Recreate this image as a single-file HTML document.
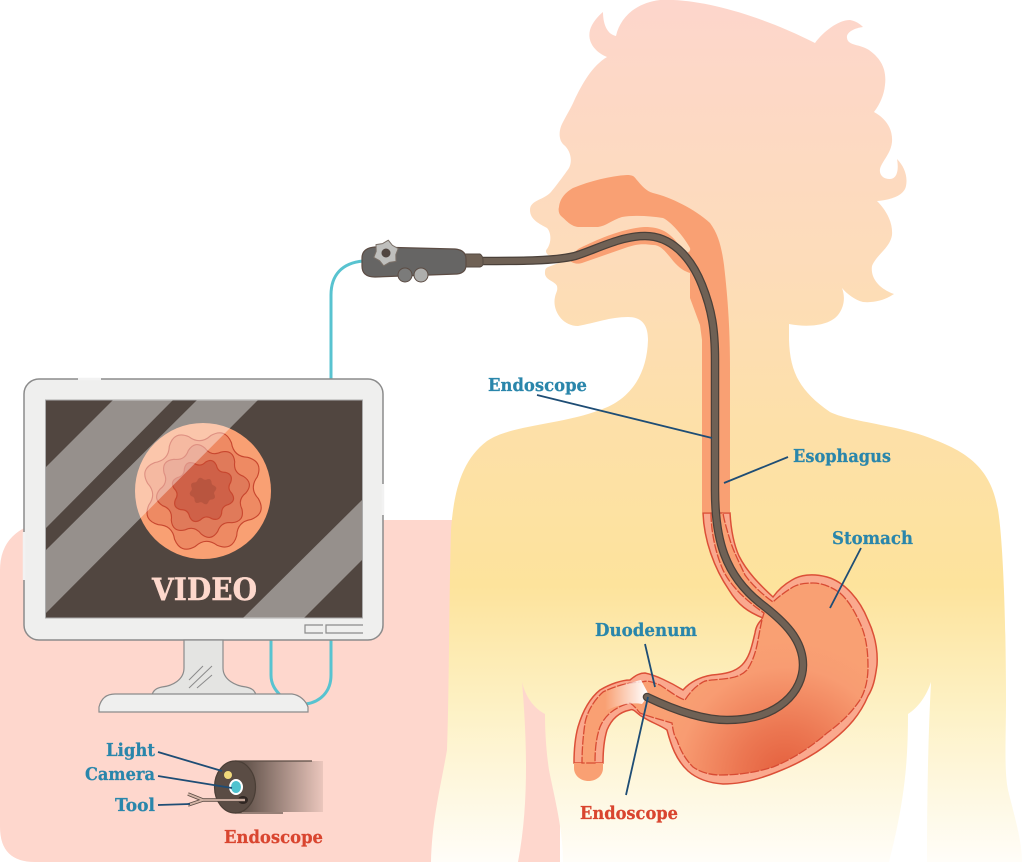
<!DOCTYPE html>
<html><head><meta charset="utf-8"><style>
html,body{margin:0;padding:0;background:#fff}
svg{display:block}
.l{font-family:"DejaVu Serif","Liberation Serif",serif;font-weight:700;font-size:18px;stroke-width:.25px}
.b{fill:#2a86ab;stroke:#2a86ab}.r{fill:#d9452f;stroke:#d9452f}
</style></head><body>
<svg width="1024" height="868" viewBox="0 0 1024 868" xmlns="http://www.w3.org/2000/svg">
<defs>
<linearGradient id="body" gradientUnits="userSpaceOnUse" x1="0" y1="0" x2="0" y2="862">
<stop offset="0" stop-color="#fdd6cc"/><stop offset=".3" stop-color="#fddcba"/><stop offset=".5" stop-color="#fde0a8"/><stop offset=".68" stop-color="#fde39c"/><stop offset=".82" stop-color="#fdf1c4"/><stop offset="1" stop-color="#fffdf8"/>
</linearGradient>
<radialGradient id="sto" gradientUnits="userSpaceOnUse" cx="785" cy="775" r="135">
<stop offset="0" stop-color="#e45f3d"/><stop offset=".35" stop-color="#ec7752"/><stop offset=".8" stop-color="#f89c72"/><stop offset="1" stop-color="#f9a073"/>
</radialGradient>
<linearGradient id="tip" gradientUnits="userSpaceOnUse" x1="240" y1="0" x2="323" y2="0">
<stop offset="0" stop-color="#5a4c44"/><stop offset="1" stop-color="#5a4c44" stop-opacity=".12"/>
</linearGradient>
<linearGradient id="wh" gradientUnits="userSpaceOnUse" x1="605" y1="0" x2="645" y2="0">
<stop offset="0" stop-color="#fff" stop-opacity="0"/><stop offset="1" stop-color="#fff" stop-opacity=".95"/>
</linearGradient>
<path id="w" d="M100 0Q117.700 23.400 92.400 38.300Q68.100 45.600 70.700 70.700Q66.700 99.700 38.300 92.400Q16 80.400 0 100Q-23.400 117.700 -38.300 92.400Q-45.600 68.100 -70.700 70.700Q-99.700 66.700 -92.400 38.300Q-80.400 16 -100 0Q-117.700 -23.400 -92.400 -38.300Q-68.100 -45.600 -70.700 -70.700Q-66.700 -99.700 -38.300 -92.400Q-16 -80.400 0 -100Q23.400 -117.700 38.300 -92.400Q45.600 -68.100 70.700 -70.700Q99.700 -66.700 92.400 -38.300Q80.400 -16 100 0Z"/>
</defs>
<rect width="1024" height="868" fill="#fff"/>
<path d="M50 520H560V862H35Q0 862 0 827V570Q0 528 50 520Z" fill="#fed7cd"/>

<path fill="url(#body)" d="M648 340C648 325 642 317 628 317C610 317 595 323 578 326C562 326 552 310 555 297C556 292 558 291 557 286C555 281 544 280 545 272C545 269 546 268 548 267L572 258L548 255C545 252 546 250 547 249C552 242 551 232 547 228C540 224 530 220 530 210C530 200 544 200 551 192C556 186 565 174 569 168C573 160 570 150 564 145C558 140 559 130 562 124C566 116 571 108 574 101C582 84 592 66 607 57C595 52 587 42 590 30C592 23 598 16 603 12C603 22 606 34 616 36C620 18 635 3 660 0C700 -2 760 15 815 43C823 32 838 20 850 20C856 21 860 24 863 27C855 28 846 32 847 38C848 46 860 44 869 50C880 58 887 68 885 85C884 95 880 104 874 112C885 118 893 128 892 142C891 152 885 158 881 166C878 172 881 179 890 179C897 179 899 170 897 159C904 166 908 176 906 186C904 196 890 200 877 201C886 210 893 222 892 235C890 248 877 254 872 266C870 280 882 290 894 294C885 300 875 303 863 302C855 300 847 294 842 288C845 296 845 306 838 315C830 325 810 328 789 324L789 340C790 370 798 390 830 412C850 422 900 425 935 440C975 455 992 475 998 510C1003 540 1006 620 1006 700C1006 740 1004 770 1008 790C1014 815 1022 840 1022 862L927 862C927 800 928 740 931 682C927 695 918 708 908 714C908 760 905 800 889 862L563 862C563 830 555 800 549 770C546 750 545 730 545 714C533 708 525 695 522 682C526 730 530 800 518 862L431 862C432 820 440 790 447 750C449 700 449 600 451 530C454 490 462 460 487 441C510 425 560 425 600 410C630 400 647 375 648 340Z"/>

<path fill="#f9a073" d="M559 207C560 198 566 192 573 188C590 181 610 176 627 175C632 175 634 176 636 179C642 186 646 191 653 193C670 197 695 209 710 223C719 235 722 250 724 265C728 300 730 330 730 370V512H702V340L700 325L690 298V273C680 270 674 262 670 257C664 250 660 245 653 245C640 243 634 245 625 248L582 263C576 265 570 262 570 260C572 255 576 250 580 248C600 238 625 228 645 227C660 227 668 232 675 240L684 252C688 254 691 251 690 248C686 240 672 222 663 218C650 216 635 215 622 217C612 220 606 226 598 227H578C570 226 566 220 561 216C559 214 558 210 559 207Z"/>

<!-- stomach outer -->
<path fill="#faa98e" stroke="#dc4f37" stroke-width="1.5" d="M730 513C731 530 734 545 739 556C747 572 760 585 773 597C778 590 785 584 792 580C800 575 812 573 827 577C845 582 860 600 868 620C875 635 878 650 877 665C875 680 873 688 868 696C860 715 848 728 833 740C815 755 795 765 777 772C755 781 738 784 723 784C708 783 697 779 688 771C676 760 671 745 667 730C660 725 650 722 643 717C638 715 634 708 630 710C620 712 612 718 607 730C604 740 603 752 603 763H574C574 750 575 738 578 727C583 710 590 698 600 690C610 684 622 680 630 680C636 675 640 673 645 673C655 675 670 682 683 690C690 682 700 677 712 675C725 674 735 672 742 665C750 657 752 645 755 633C756 626 759 622 763 618C748 612 738 605 729 590C714 568 704 540 703 513Z"/>
<!-- duodenum cap -->
<path fill="#f9a073" d="M574 763H603V768C603 776 596 781 588.500 781C581 781 574 776 574 768Z"/>
<!-- inner -->
<path fill="url(#sto)" stroke="#d84b33" stroke-width="1.300" stroke-dasharray="9 1.500" d="M711 513C711 530 715 552 723 570C730 585 745 600 764 613C761 622 760 630 758 640C756 652 752 663 747 670C740 677 732 678 723 679C713 680 706 680 703 682C696 686 690 692 685 700C678 698 668 690 660 685C652 682 648 680 642 682C630 682 615 686 603 692C594 700 587 712 585 723C583 737 582 750 582 763H595C595 750 596 738 600 727C605 715 615 707 630 703C635 706 637 710 640 713C650 717 662 720 672 723C673 730 674 736 677 740C681 752 686 760 693 767C700 772 710 775 720 775C740 775 757 772 773 767C795 758 812 746 827 733C845 720 853 710 860 700C866 690 868 678 868 667C868 650 866 636 860 623C854 610 848 600 840 593C832 587 822 583 813 583C805 583 798 584 793 587C785 592 778 597 773 602C762 594 752 585 745 575C738 560 733 550 730 540C727 530 724 520 723 513Z"/>
<path fill="url(#wh)" d="M604 692C618 686 632 682 641 680L649 695L642 704C632 702 615 705 604 712Z"/>

<!-- tube -->
<path fill="none" stroke="#4a4039" stroke-width="8.500" stroke-linecap="round" d="M482 261C520 261 555 261 575 256C595 250 620 236 645 236C670 236 690 255 702 285C712 310 715 330 715 360V490C715 540 725 575 760 603C785 622 803 640 803 665C803 690 780 720 727 720C700 720 670 708 647 697"/>
<path fill="none" stroke="#6f6155" stroke-width="6" stroke-linecap="round" d="M482 261C520 261 555 261 575 256C595 250 620 236 645 236C670 236 690 255 702 285C712 310 715 330 715 360V490C715 540 725 575 760 603C785 622 803 640 803 665C803 690 780 720 727 720C700 720 670 708 647 697"/>

<!-- cables -->
<g fill="none" stroke="#58c3d0" stroke-width="3">
<path d="M331 382V295C331 275 342 263 363 261"/>
<path d="M331 638V675C331 692 320 702 306 704"/>
<path d="M271 638V675C271 684 275 690 281 696"/>
</g>

<!-- handle -->
<path fill="#6f6155" stroke="#564a42" stroke-width="1" d="M465 254H480Q483 256 483 260V264Q483 266 480 267H465Z"/>
<path fill="#666564" stroke="#5c4c44" stroke-width="1.200" d="M375 247L455 249Q466 250 466 259V265Q466 273 457 274L375 277Q362 277 362 266V258Q362 248 375 247Z"/>
<circle cx="405" cy="275" r="7" fill="#7b7b7a" stroke="#5c4c44"/>
<circle cx="421" cy="275" r="7" fill="#aeaeac" stroke="#5c4c44"/>
<polygon fill="#bfbfbd" stroke="#7b7068" stroke-width="1" stroke-linejoin="round" points="388.300,240.200 392.400,245.300 398.200,248.600 395.800,254.700 396,261.400 389.400,262.400 383.700,265.800 379.600,260.700 373.800,257.400 376.200,251.300 376,244.600 382.600,243.600"/>
<circle cx="386" cy="253" r="4.500" fill="#514640"/>

<!-- monitor -->
<rect x="24" y="379" width="359" height="261" rx="15" fill="#efefee" stroke="#8b8b8b" stroke-width="1.500"/>
<path d="M78 379H101M24 532V580M383 484V515" stroke="#f2f2f2" stroke-width="2.500" fill="none"/>
<rect x="45.500" y="400" width="317" height="218" fill="#514640" stroke="#ababab"/>
<circle cx="203" cy="491" r="68" fill="#f9a073"/>
<g stroke="#c8472f">
<use href="#w" transform="translate(203 491) rotate(8) scale(.56)" fill="#ee8a63" stroke-width="2"/>
<use href="#w" transform="translate(203 491) rotate(25) scale(.43)" fill="#e07a5a" stroke-width="2.600"/>
<use href="#w" transform="translate(203 491) rotate(5) scale(.29)" fill="#cf6148" stroke-width="4"/>
<use href="#w" transform="translate(203 491) rotate(20) scale(.125)" fill="#b9553f" stroke="none"/>
</g>
<g fill="#fff" fill-opacity=".4">
<polygon points="113,400 173,400 46,528 46,467"/>
<polygon points="197,400 258,400 46,613 46,550"/>
<polygon points="362,500 362,560 304,618 243,618"/>
</g>
<text x="152" y="600" class="l" style="font-size:31px;fill:#fdd8cc;stroke:#fdd8cc;stroke-width:.4px" textLength="105" lengthAdjust="spacingAndGlyphs">VIDEO</text>
<path d="M323 625H305V633H323M363 625H326V633H363" fill="none" stroke="#8b8b8b" stroke-width="1.200"/>

<!-- stand -->
<path fill="#e4e4e2" stroke="#8b8b8b" stroke-width="1.200" d="M184 640V668C184 680 172 686 162 687C156 688 153 691 152 695H256C255 691 252 688 246 687C236 686 223 680 223 668V640Z"/>
<path d="M189 680L203 666M189 688L212 666M197 688L212 675" stroke="#8b8b8b" stroke-width="1" fill="none"/>
<path fill="#efefee" stroke="#8b8b8b" stroke-width="1.200" d="M99 712V707C101 699 106 694 115 694H292C300 695 306 701 308 707V712Z"/>

<!-- tip -->
<path fill="url(#tip)" d="M235 761H323V812H235Z"/>
<path d="M235 761H312M235 813H283" stroke="#5a4c44" stroke-width="1.200" fill="none"/>
<ellipse cx="235" cy="787" rx="20.500" ry="26" fill="#5a4c44" stroke="#4a3e36" stroke-width="1.200"/>
<circle cx="228" cy="775" r="4" fill="#f0d97c"/>
<ellipse cx="236" cy="787" rx="7" ry="8" fill="#fff"/>
<ellipse cx="236" cy="787" rx="5" ry="6" fill="#4fc3cf"/>
<ellipse cx="243" cy="800" rx="5" ry="4" fill="#2f2622"/>
<path d="M245 800H203L188 794M203 800L188 805" fill="none" stroke="#5a4c44" stroke-width="3.400"/>
<path d="M245 800H203L188 794M203 800L188 805" fill="none" stroke="#d3b4a6" stroke-width="1.800"/>

<!-- leaders -->
<g stroke="#1e4d75" stroke-width="1.800" fill="none">
<path d="M537 395L712 438"/>
<path d="M788 457L724 483"/>
<path d="M861 548L830 608"/>
<path d="M645 644L655 687"/>
<path d="M626 795L648 697"/>
<path d="M158 752L222 771"/>
<path d="M158 776L232 788"/>
<path d="M158 805L190 804"/>
</g>

<!-- labels -->
<text x="488" y="391" class="l b" textLength="99" lengthAdjust="spacingAndGlyphs">Endoscope</text>
<text x="793" y="462" class="l b" textLength="98" lengthAdjust="spacingAndGlyphs">Esophagus</text>
<text x="832" y="544" class="l b" textLength="81" lengthAdjust="spacingAndGlyphs">Stomach</text>
<text x="595" y="636" class="l b" textLength="102" lengthAdjust="spacingAndGlyphs">Duodenum</text>
<text x="580" y="819" class="l r" textLength="98" lengthAdjust="spacingAndGlyphs">Endoscope</text>
<text x="224" y="843" class="l r" textLength="99" lengthAdjust="spacingAndGlyphs">Endoscope</text>
<text x="106" y="756" class="l b" textLength="49" lengthAdjust="spacingAndGlyphs">Light</text>
<text x="85" y="780" class="l b" textLength="70" lengthAdjust="spacingAndGlyphs">Camera</text>
<text x="115" y="811" class="l b" textLength="40" lengthAdjust="spacingAndGlyphs">Tool</text>
</svg>
</body></html>
